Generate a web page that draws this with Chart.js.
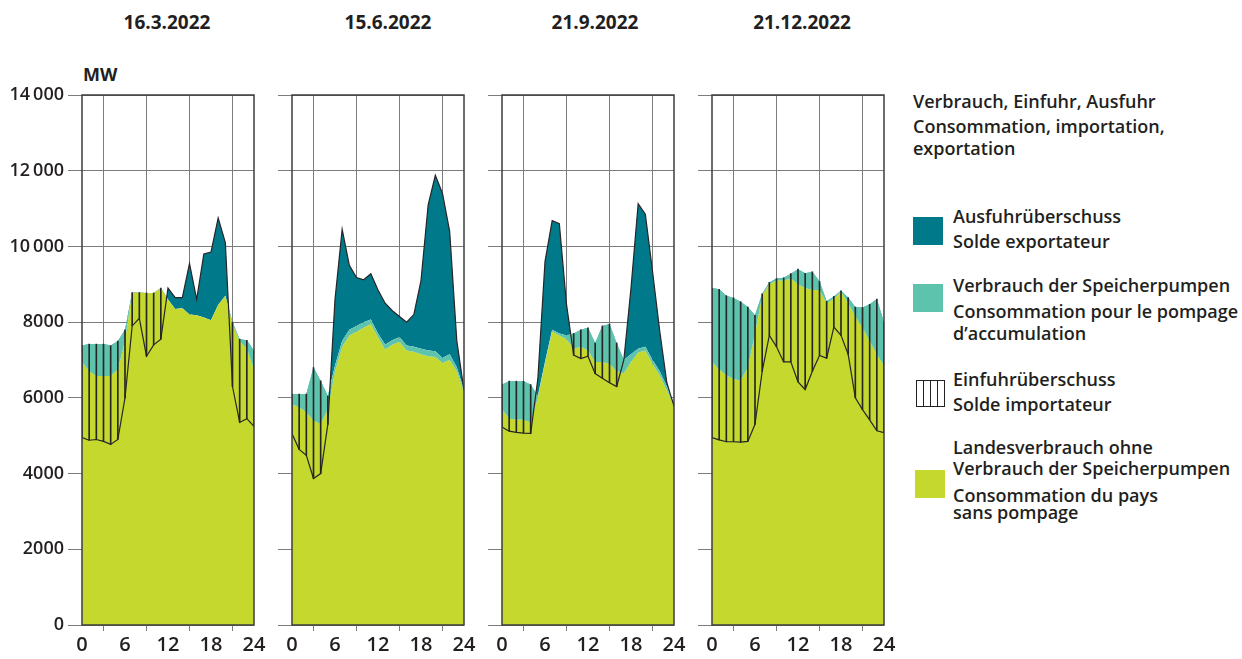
<!DOCTYPE html>
<html>
<head>
<meta charset="utf-8">
<script src="https://cdn.jsdelivr.net/npm/chart.js@4.4.1/dist/chart.umd.min.js"></script>
<style>
html,body{margin:0;padding:0;background:#fff;}
#wrap{position:relative;width:1242px;height:659px;overflow:hidden;font-family:"Open Sans",sans-serif;color:#231f20;}
canvas.cv{position:absolute;top:0;}
.title{position:absolute;top:9px;font-weight:700;font-size:19px;line-height:26px;transform:translateX(-50%);white-space:nowrap;}
.unit{position:absolute;left:83px;top:62px;font-weight:700;font-size:18px;line-height:24px;}
.lg{position:absolute;font-weight:600;font-size:18px;line-height:24px;white-space:nowrap;}
.sw{position:absolute;width:30px;height:28px;}
.hatch{position:absolute;width:27px;height:25px;border:1px solid #222;
 background:repeating-linear-gradient(to right, transparent 0 6px, #222 6px 7px);}
</style>
</head>
<body>
<div id="wrap">
  <div class="unit">MW</div>
  <div class="lg" style="left:913px;top:89px">Verbrauch, Einfuhr, Ausfuhr</div>
  <div class="lg" style="left:913px;top:114px">Consommation, importation,</div>
  <div class="lg" style="left:913px;top:136px">exportation</div>

  <div class="sw" style="left:913px;top:217px;background:#00798a"></div>
  <div class="lg" style="left:953px;top:204px">Ausfuhrüberschuss</div>
  <div class="lg" style="left:953px;top:229px">Solde exportateur</div>

  <div class="sw" style="left:913px;top:284px;background:#5ec3ad"></div>
  <div class="lg" style="left:953px;top:273px">Verbrauch der Speicherpumpen</div>
  <div class="lg" style="left:953px;top:299px">Consommation pour le pompage</div>
  <div class="lg" style="left:953px;top:321px">d’accumulation</div>

  <div class="hatch" style="left:916px;top:380px"></div>
  <div class="lg" style="left:953px;top:367px">Einfuhrüberschuss</div>
  <div class="lg" style="left:953px;top:392px">Solde importateur</div>

  <div class="sw" style="left:915px;top:470px;background:#c5d82e"></div>
  <div class="lg" style="left:953px;top:435px">Landesverbrauch ohne</div>
  <div class="lg" style="left:953px;top:456px">Verbrauch der Speicherpumpen</div>
  <div class="lg" style="left:953px;top:483px">Consommation du pays</div>
  <div class="lg" style="left:953px;top:500px">sans pompage</div>
</div>
<script>
// ---- data ----
const hours = [0,1,2,3,4,5,6,7,8,9,10,11,12,13,14,15,16,17,18,19,20,21,22,23,24];
const xTickValues = [0,6,12,18,24];
const xTickLabels = ['0','6','12','18','24'];
const yTickValues = [0,2000,4000,6000,8000,10000,12000,14000];
const yTickLabels = ['0','2000','4000','6000','8000','10\u2009000','12\u2009000','14\u2009000'];
const panelTitles = ['16.3.2022','15.6.2022','21.9.2022','21.12.2022'];

// Landesverbrauch ohne Speicherpumpen (MW)
const land_16_3  = [6950,6700,6580,6580,6580,6750,7500,8780,8780,8770,8770,8900,8600,8350,8370,8200,8180,8120,8050,8450,8700,7950,7500,7300,6750];
// Landesverbrauch + Speicherpumpen (MW)
const total_16_3 = [7380,7420,7420,7420,7380,7500,7800,8780,8780,8770,8770,8900,8600,8350,8370,8200,8180,8120,8050,8450,8700,8000,7550,7520,7250];
// Erzeugung (MW)
const prod_16_3  = [4950,4880,4900,4850,4770,4900,6000,7900,8100,7100,7400,7550,8900,8650,8650,9550,8600,9800,9850,10750,10100,6300,5350,5450,5250];

const land_15_6  = [5830,5750,5620,5400,5300,5700,6700,7350,7650,7750,7850,7950,7600,7280,7400,7480,7250,7220,7150,7100,7080,6930,7000,6700,6150];
const total_15_6 = [6100,6100,6100,6800,6450,6050,6850,7500,7800,7900,8000,8070,7700,7400,7520,7600,7380,7350,7300,7250,7230,7050,7150,6800,6200];
const prod_15_6  = [5050,4640,4480,3870,4000,5300,8600,10450,9500,9180,9120,9280,8850,8500,8300,8150,8000,8200,9100,11100,11880,11400,10400,7500,6200];

const land_21_9  = [5700,5450,5430,5420,5350,6000,6900,7750,7650,7550,7300,7350,7250,6950,6950,6900,6700,6650,6950,7200,7250,6900,6600,6200,5800];
const total_21_9 = [6350,6440,6440,6440,6350,6050,6950,7800,7700,7650,7700,7800,7850,7450,7900,7950,7450,7000,7150,7300,7350,7000,6700,6300,5850];
const prod_21_9  = [5230,5120,5090,5070,5060,6500,9600,10680,10600,8470,7130,7040,7100,6640,6520,6400,6300,7000,8900,11130,10850,9350,7780,6400,5780];

const land_21_12  = [6950,6750,6600,6500,6450,6800,7700,8700,9000,9100,9100,9150,9000,8900,8850,8850,8500,8620,8800,8500,8150,7850,7500,7150,6850];
const total_21_12 = [8900,8870,8700,8640,8540,8400,8180,8750,9050,9150,9170,9280,9400,9290,9330,9080,8550,8680,8830,8650,8400,8390,8470,8610,8000];
const prod_21_12  = [4950,4890,4840,4840,4830,4850,5300,6700,7650,7350,6950,6950,6420,6220,6700,7120,7050,7870,7650,7150,6000,5690,5420,5130,5080];

// ---- styling / layout ----
const COLORS = {land:'#c5d82e', pump:'#5ec3ad', exp:'#00798a', line:'#262626', grid:'#7c7c7c', border:'#3c3c3c', text:'#231f20'};
const PLOT_W = 172, PAD_R = 20, TOP = 95, H = 659, XAXIS_H = 34;

const panels = [
  {title: panelTitles[0], land: land_16_3,  total: total_16_3,  prod: prod_16_3,  left: 82,  titleX: 167, labels: true},
  {title: panelTitles[1], land: land_15_6,  total: total_15_6,  prod: prod_15_6,  left: 292, titleX: 388, labels: false},
  {title: panelTitles[2], land: land_21_9,  total: total_21_9,  prod: prod_21_9,  left: 502, titleX: 595, labels: false},
  {title: panelTitles[3], land: land_21_12, total: total_21_12, prod: prod_21_12, left: 712, titleX: 802, labels: false}
];

const frame = {
  id: 'frame',
  afterDraw(chart) {
    const a = chart.chartArea, c = chart.ctx;
    c.save();
    c.strokeStyle = COLORS.border;
    c.lineWidth = 1.5;
    c.strokeRect(a.left, a.top, a.right - a.left, a.bottom - a.top);
    c.restore();
  }
};

const wrap = document.getElementById('wrap');
const fontY = {family: '"Open Sans", sans-serif', size: 18, weight: '600'};
const fontX = {family: '"Open Sans", sans-serif', size: 20, weight: '600'};

panels.forEach(p => {
  const axisW = p.labels ? 82 : 16;
  const t = document.createElement('div');
  t.className = 'title';
  t.style.left = p.titleX + 'px';
  t.textContent = p.title;
  wrap.appendChild(t);

  const cv = document.createElement('canvas');
  cv.className = 'cv';
  cv.width = axisW + PLOT_W + PAD_R;
  cv.height = H;
  cv.style.left = (p.left - axisW) + 'px';
  wrap.appendChild(cv);

  const pts = arr => hours.map((h, i) => ({x: h, y: arr[i]}));
  const hatch = hours.map((h, i) => p.prod[i] < p.total[i] ? {x: h, y: [p.prod[i], p.total[i]]} : null).filter(Boolean);

  new Chart(cv, {
    type: 'line',
    data: {
      datasets: [
        {type: 'line', data: pts(p.land), fill: 'origin', backgroundColor: COLORS.land, borderWidth: 0, pointRadius: 0, tension: 0, order: 4},
        {type: 'line', data: pts(p.total), fill: 0, backgroundColor: COLORS.pump, borderWidth: 0, pointRadius: 0, tension: 0, order: 3},
        {type: 'bar', data: hatch, backgroundColor: COLORS.line, barThickness: 1, borderWidth: 0, order: 2},
        {type: 'line', data: pts(p.prod), fill: {target: 1, above: COLORS.exp, below: 'rgba(0,0,0,0)'},
         borderColor: COLORS.line, borderWidth: 1.2, pointRadius: 0, tension: 0, order: 1}
      ]
    },
    options: {
      responsive: false,
      animation: false,
      devicePixelRatio: 1,
      events: [],
      layout: {padding: {top: TOP, left: 0, right: PAD_R, bottom: 0}},
      plugins: {legend: {display: false}, tooltip: {enabled: false}},
      scales: {
        x: {
          type: 'linear', min: 0, max: 24, offset: false,
          afterBuildTicks: s => { s.ticks = xTickValues.map(v => ({value: v})); },
          afterFit: s => { s.height = XAXIS_H; },
          grid: {color: COLORS.grid, lineWidth: 1, tickLength: 6, tickColor: COLORS.grid, drawTicks: true},
          border: {display: false},
          ticks: {padding: 2, color: COLORS.text, font: fontX, maxRotation: 0, autoSkip: false,
                  callback: v => xTickLabels[xTickValues.indexOf(v)]}
        },
        y: {
          type: 'linear', min: 0, max: 14000,
          afterBuildTicks: s => { s.ticks = yTickValues.map(v => ({value: v})); },
          afterFit: s => { s.width = axisW; },
          grid: {color: COLORS.grid, lineWidth: 1, tickLength: 14, tickColor: COLORS.grid, drawTicks: true},
          border: {display: false},
          ticks: {padding: 4, color: COLORS.text, font: fontY, autoSkip: false,
                  callback: v => p.labels ? yTickLabels[yTickValues.indexOf(v)] : ''}
        }
      }
    },
    plugins: [frame]
  });
});
</script>
</body>
</html>
